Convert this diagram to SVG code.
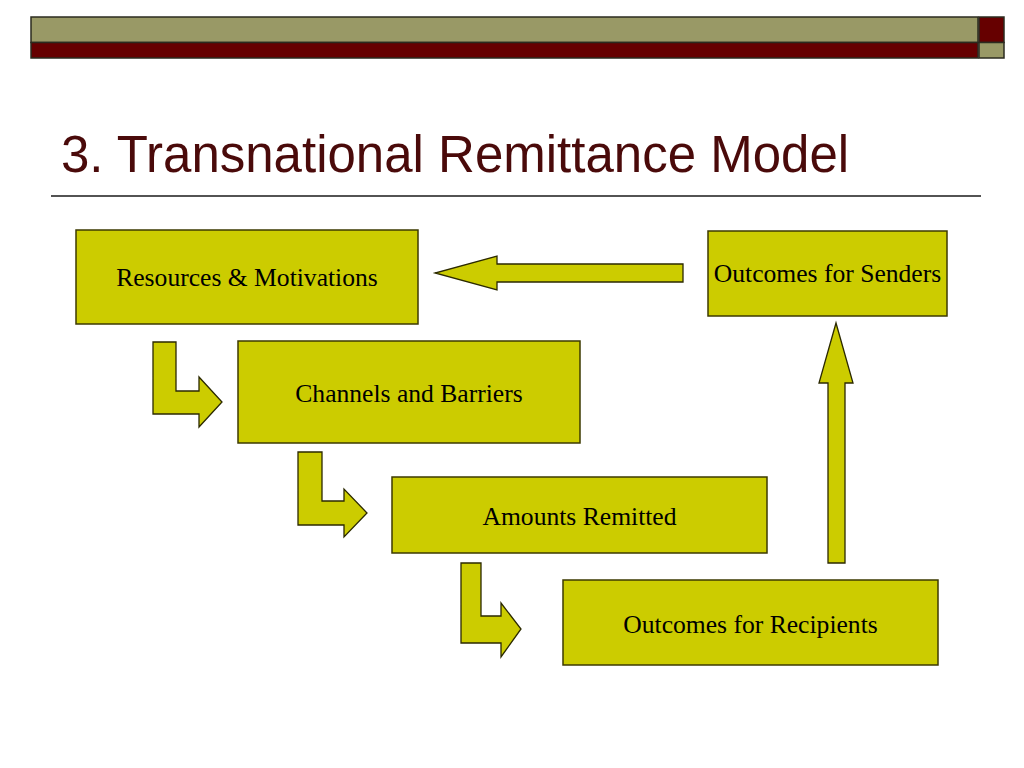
<svg xmlns="http://www.w3.org/2000/svg" width="1024" height="768" viewBox="0 0 1024 768">
<style>
.bar{stroke:#2b2b1f;stroke-width:1.5}
.olive{fill:#999966}
.maroon{fill:#660000}
.box{fill:#cccc00;stroke:#3d3a00;stroke-width:1.5}
.arrow{fill:#cccc00;stroke:#2b2900;stroke-width:1.3;stroke-linejoin:miter}
.lbl{font-family:"Liberation Serif","Times New Roman",serif;font-size:25.6px;fill:#000;text-anchor:middle}
.title{font-family:"Liberation Sans",Arial,sans-serif;font-size:51px;fill:#4a0a0a}
</style>
<rect width="1024" height="768" fill="#ffffff"/>
<g id="header">
<rect class="bar olive" x="31" y="17" width="947" height="25.5"/>
<rect class="bar maroon" x="31" y="42.5" width="947" height="15.5"/>
<rect class="bar maroon" x="979" y="17" width="25" height="25.5"/>
<rect class="bar olive" x="979" y="42.5" width="25" height="15.5"/>
</g>
<text class="title" x="61" y="172">3. Transnational Remittance Model</text>
<line x1="51" y1="196" x2="981" y2="196" stroke="#1a1a1a" stroke-width="1.5"/>
<g id="connectors">
<polygon class="arrow" points="683,264 497,264 497,256 435,273 497,290 497,282 683,282"/>
<polygon class="arrow" points="828,563 828,383 819,383 836,323 853,383 845,383 845,563"/>
<polygon class="arrow" points="153,342 176,342 176,391 199,391 199,377 222,402 199,427 199,414 153,414"/>
<polygon class="arrow" points="298,452 322,452 322,501 344,501 344,489 367,513 344,537 344,525 298,525"/>
<polygon class="arrow" points="461,563 481,563 481,616 501,616 501,603 521,629 501,657 501,643 461,643"/>
</g>
<g id="node-resources">
<rect class="box" x="76" y="230" width="342" height="94"/>
<text class="lbl" x="247" y="286">Resources &amp; Motivations</text>
</g>
<g id="node-senders">
<rect class="box" x="708" y="231" width="239" height="85"/>
<text class="lbl" x="827.5" y="282">Outcomes for Senders</text>
</g>
<g id="node-channels">
<rect class="box" x="238" y="341" width="342" height="102"/>
<text class="lbl" x="409" y="402">Channels and Barriers</text>
</g>
<g id="node-amounts">
<rect class="box" x="392" y="477" width="375" height="76"/>
<text class="lbl" x="579.5" y="525">Amounts Remitted</text>
</g>
<g id="node-recipients">
<rect class="box" x="563" y="580" width="375" height="85"/>
<text class="lbl" x="750.5" y="633">Outcomes for Recipients</text>
</g>
</svg>
